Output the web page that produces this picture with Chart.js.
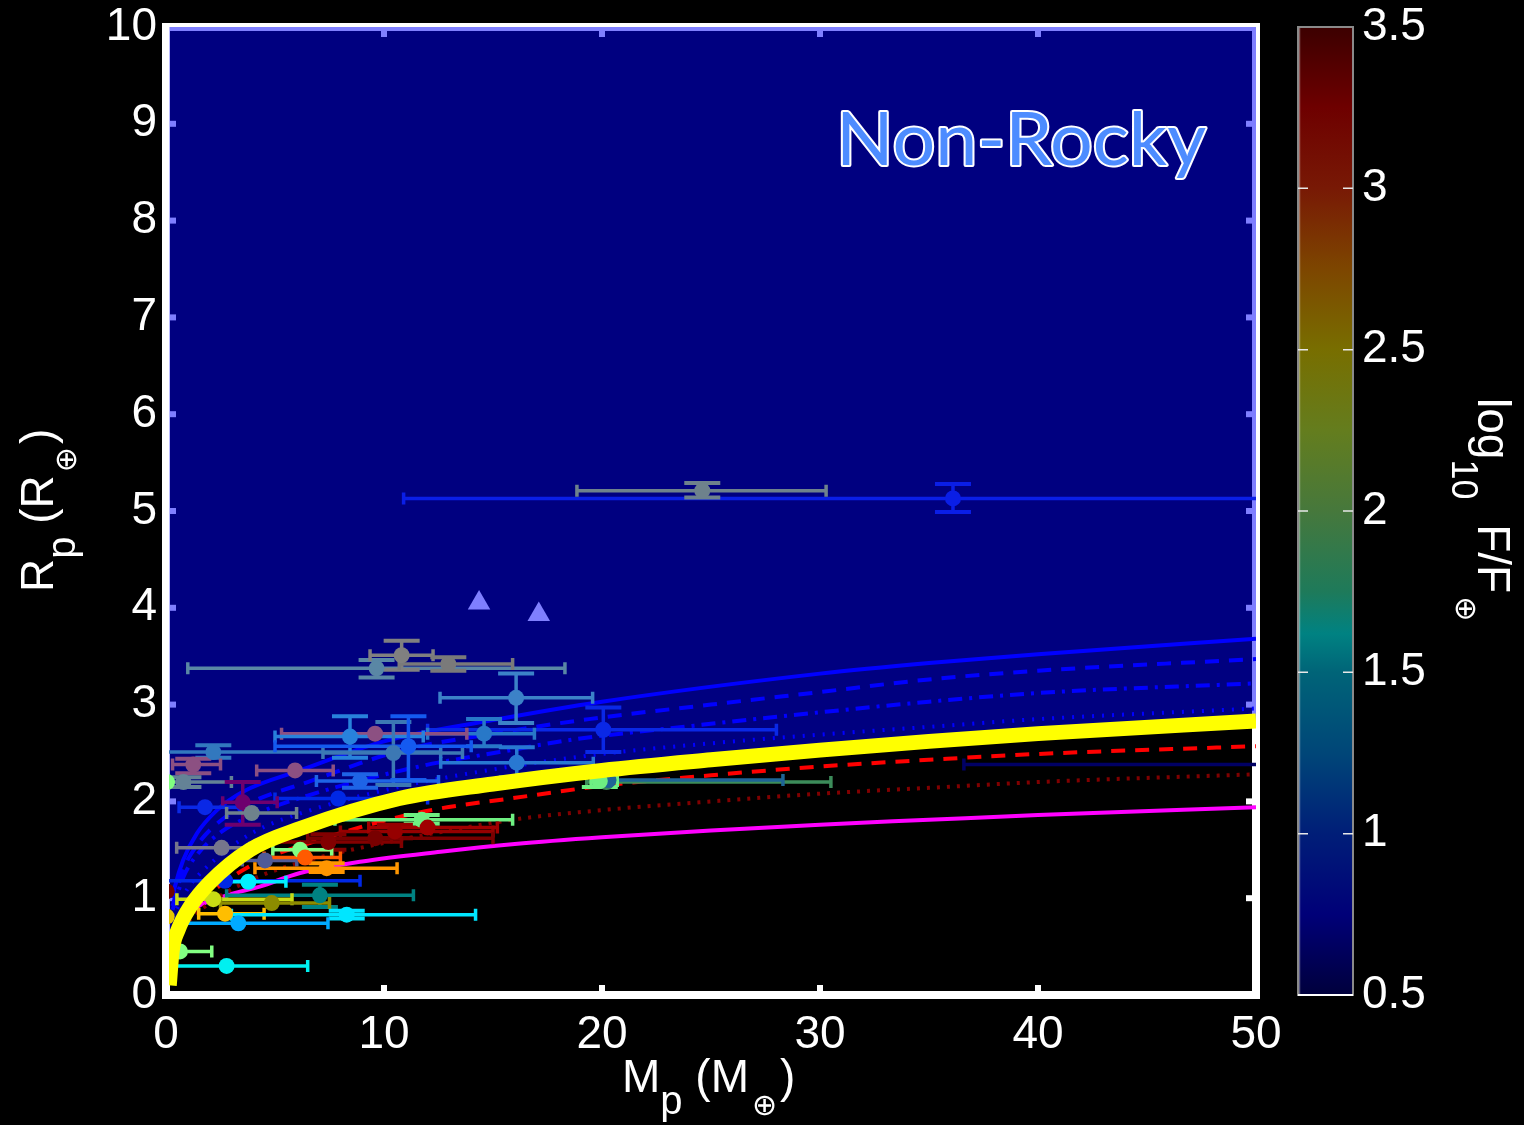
<!DOCTYPE html>
<html>
<head>
<meta charset="utf-8">
<script src="https://cdn.jsdelivr.net/npm/chart.js@4.4.1/dist/chart.umd.min.js"></script>
<style>
  html, body { margin: 0; padding: 0; background: #000; }
  #c { display: block; }
</style>
</head>
<body>
<canvas id="c" width="1524" height="1125"></canvas>
<script>
// ---------- axis ticks ----------
const massTicks   = [0, 10, 20, 30, 40, 50];
const radiusTicks = [0, 1, 2, 3, 4, 5, 6, 7, 8, 9, 10];
const fluxTicks   = [0.5, 1, 1.5, 2, 2.5, 3, 3.5];

// ---------- composition curves (mass in Earth masses, radius in Earth radii) ----------
// rocky / Earth-like threshold (thick yellow)
const rockyMass   = [0.15, 0.28, 0.55, 1.1, 2.0, 3.85, 6.15, 10.7, 15, 20, 25, 30, 35, 40, 50];
const rockyRadius = [0.10, 0.45, 0.67, 0.91, 1.16, 1.50, 1.72, 2.03, 2.18, 2.32, 2.43, 2.53, 2.62, 2.70, 2.83];
// H/He envelope curves (blue)
const envSolidMass   = [0.3, 0.41, 0.78, 1.42, 2.34, 3.53, 6.15, 10, 15, 20, 30, 35, 40, 50];
const envSolidRadius = [1.00, 1.12, 1.39, 1.67, 1.91, 2.10, 2.32, 2.62, 2.84, 3.03, 3.32, 3.43, 3.52, 3.68];
const envDashMass    = [0.3, 0.8, 1.5, 2.5, 4, 6.5, 10.7, 15, 19.4, 25, 30, 35, 40, 50];
const envDashRadius  = [0.92, 1.30, 1.57, 1.80, 2.00, 2.20, 2.52, 2.70, 2.85, 3.00, 3.13, 3.26, 3.35, 3.47];
const envDashDotMass   = [0.3, 0.8, 1.5, 2.5, 4, 6.5, 11.6, 15.3, 19, 21.7, 30, 35, 40, 50];
const envDashDotRadius = [0.88, 1.22, 1.47, 1.68, 1.86, 2.06, 2.36, 2.51, 2.65, 2.72, 2.92, 3.03, 3.12, 3.22];
const envDotMass   = [0.3, 1, 2, 4, 6.5, 10.7, 15, 20, 25, 30, 35, 40, 50];
const envDotRadius = [0.80, 1.10, 1.35, 1.68, 1.90, 2.15, 2.33, 2.49, 2.60, 2.69, 2.77, 2.85, 2.96];
// denser compositions
const ironDashMass   = [0.3, 1, 2, 4, 7, 10, 12.4, 15.8, 20, 25, 30, 35, 40, 50];
const ironDashRadius = [0.55, 0.85, 1.05, 1.35, 1.60, 1.80, 1.92, 2.03, 2.16, 2.27, 2.36, 2.43, 2.49, 2.57];
const ironDotMass   = [0.3, 1, 2, 4, 7, 10, 13, 16.2, 20, 25, 30, 35, 40, 50];
const ironDotRadius = [0.50, 0.75, 0.95, 1.20, 1.42, 1.57, 1.70, 1.82, 1.91, 2.00, 2.08, 2.14, 2.20, 2.28];
const pureIronMass   = [0.3, 0.64, 1.5, 2.8, 4.3, 6.15, 9, 12.6, 16, 20, 25, 30, 35, 40, 50];
const pureIronRadius = [0.62, 0.77, 0.92, 1.03, 1.12, 1.26, 1.38, 1.48, 1.56, 1.63, 1.70, 1.76, 1.81, 1.86, 1.94];

// ---------- planets with mass and radius measurements ----------
const planetMass   = [36.1, 24.6, 9.66, 10.81, 12.95, 16.06, 20.06, 14.59, 2.17, 9.59, 8.44, 10.43, 11.12, 16.09, 1.25, 5.92, 0.8, 0.05, 8.9, 20.2, 20.3, 19.9, 58, 7.9, 3.52, 1.79, 3.93, 2.55, 11.73, 10.5, 12.0, 9.6, 7.45, 6.15, 4.54, 6.38, 7.37, 2.71, 3.78, 0.03, 7.06, 2.17, 4.85, 0.03, 2.71, 8.29, 3.32, 0.64, 2.78];
const planetMassLo = [10.9, 18.85, 1.0, 9.36, 10.7, 12.57, 12.0, 12.0, 0.0, 5.3, 5.0, 7.2, 5.0, 12.6, 0.3, 4.16, 0.0, null, 6.9, 19.3, 19.6, 19.5, 36.6, 5.0, 2.6, 0.6, 2.78, 0.49, 7.75, 8.0, 9.3, 6.5, 4.5, 4.9, 3.5, 4.5, 4.08, 0.0, 2.8, null, 2.78, 0.5, 2.5, null, 1.5, 3.0, 0.64, 0.1, 0.33];
const planetMassHi = [60, 30.28, 18.3, 12.25, 15.9, 19.57, 28.0, 16.9, 12.6, 13.8, 11.8, 13.6, 14.0, 19.6, 2.5, 7.67, 3.0, null, 12.5, 30.5, 28.3, 20.7, 80, 12.0, 5.1, 3.4, 5.99, 3.85, 15.9, 15.0, 15.2, 15.0, 10.8, 7.6, 6.0, 8.0, 10.6, 8.9, 5.5, null, 11.35, 5.78, 7.5, null, 4.5, 14.2, 7.43, 2.1, 6.5];
const planetRadius = [5.13, 5.21, 3.375, 3.51, 3.42, 3.07, 2.74, 2.70, 2.51, 2.70, 2.67, 2.50, 2.57, 2.40, 2.38, 2.32, 2.20, 2.20, 2.21, 2.20, 2.22, 2.21, 2.38, 2.03, 1.99, 1.94, 1.88, 1.52, 1.81, 1.69, 1.73, 1.62, 1.58, 1.50, 1.39, 1.42, 1.31, 1.18, 1.17, 1.07, 1.03, 0.99, 0.95, 0.81, 0.84, 0.83, 0.74, 0.45, 0.30];
const planetRadLo  = [4.99, 5.14, 3.28, 3.36, 3.35, 2.81, 2.51, 2.57, 2.45, null, 2.45, 2.17, 2.22, 2.25, 2.29, null, 2.15, null, 2.14, null, null, 2.15, null, null, 1.76, null, null, null, 1.77, 1.62, null, null, 1.50, null, null, null, 1.27, null, null, null, 0.91, null, null, null, null, 0.79, null, null, null];
const planetRadHi  = [5.28, 5.29, 3.46, 3.66, 3.49, 3.32, 2.97, 2.85, 2.58, null, 2.88, 2.82, 2.88, 2.56, 2.44, null, 2.25, null, 2.28, null, null, 2.27, null, null, 2.20, null, null, null, 1.86, 1.76, null, null, 1.66, null, null, null, 1.36, null, null, null, 1.14, null, null, null, null, 0.87, null, null, null];
const planetColors = ['#0a1ee6', '#6e828c', '#5a87a5', '#808080', '#7a7a7a', '#3c82c8', '#0a28e6', '#2878c8', '#3278be', '#8c5082', '#2882dc', '#3c78b4', '#145af0', '#2878d2', '#8c5082', '#8c5082', '#648296', '#80ff80', '#1e64e6', '#3c8c5a', '#1e6496', '#6ef082', '#000064', '#0028e6', '#6e006e', '#0a28e6', '#6e828c', '#76768c', '#6ef082', '#960000', '#a00000', '#780000', '#820000', '#82ff82', '#505a96', '#ff5a00', '#ff9600', '#0028e6', '#00f0ff', '#6e0000', '#008282', '#c8dc14', '#8c8c00', '#e6c800', '#ffbe00', '#00e6ff', '#00aaff', '#82ff82', '#00f0f0'];

// planets with only a radius limit (triangles)
const limitMass   = [14.36, 17.1];
const limitRadius = [4.05, 3.93];

// ---------- colour bar (log10 incident flux) ----------
const cbStops  = [0.5, 0.75, 1.0, 1.25, 1.5, 1.62, 1.75, 2.0, 2.25, 2.5, 2.75, 3.0, 3.25, 3.5];
const cbColors = ['#00003c', '#000078', '#001e78', '#004678', '#006478', '#008282', '#1e7a5a', '#46783c', '#647d1e', '#786e00', '#7d4600', '#781905', '#6e0000', '#3c0000'];

const TICK_FONT = "'Liberation Sans', Arial, Helvetica, sans-serif";
const toXY = (xs, ys) => xs.map((x, i) => ({ x: x, y: ys[i] }));

function curve(label, xs, ys, color, dash, width, order) {
  return {
    label: label, data: toXY(xs, ys), borderColor: color, borderWidth: width || 4,
    borderDash: dash || [], pointRadius: 0, fill: false, order: order,
    cubicInterpolationMode: 'monotone', clip: 0
  };
}

// frame and inward ticks, drawn beneath the shaded region
const framePlugin = {
  id: 'frameTicks',
  beforeDraw(chart) {
    const ctx = chart.ctx;
    ctx.save();
    ctx.fillStyle = '#000';
    ctx.fillRect(0, 0, chart.width, chart.height);
    ctx.restore();
  },
  beforeDatasetsDraw(chart) {
    const { ctx, chartArea: a, scales } = chart;
    ctx.save();
    ctx.strokeStyle = '#fff';
    ctx.lineWidth = 8;
    ctx.strokeRect(a.left, a.top, a.right - a.left, a.bottom - a.top);
    ctx.fillStyle = '#fff';
    massTicks.slice(1, -1).forEach(v => {
      const px = scales.x.getPixelForValue(v);
      ctx.fillRect(px - 3, a.top, 6, 10);
      ctx.fillRect(px - 3, a.bottom - 10, 6, 10);
    });
    radiusTicks.slice(1, -1).forEach(v => {
      const py = scales.y.getPixelForValue(v);
      ctx.fillRect(a.left, py - 3, 10, 6);
      ctx.fillRect(a.right - 10, py - 3, 10, 6);
    });
    ctx.restore();
  },
  afterDatasetsDraw(chart) {
    const { ctx, chartArea: a } = chart;
    ctx.save();
    ctx.strokeStyle = '#fff';
    ctx.lineWidth = 6;
    ctx.beginPath();
    ctx.moveTo(a.left, a.top - 4);
    ctx.lineTo(a.left, a.bottom + 1);
    ctx.lineTo(a.right + 4, a.bottom + 1);
    ctx.stroke();
    ctx.restore();
  }
};

// error bars for the planet dataset
const errorBarPlugin = {
  id: 'errorBars',
  beforeDatasetDraw(chart, args) {
    if (chart.data.datasets[args.index].label !== 'planets') return;
    const { ctx, chartArea: a, scales: { x, y } } = chart;
    ctx.save();
    ctx.beginPath();
    ctx.rect(a.left, a.top, a.right - a.left, a.bottom - a.top);
    ctx.clip();
    ctx.lineCap = 'butt';
    planetMass.forEach((m, i) => {
      ctx.strokeStyle = planetColors[i];
      const px = x.getPixelForValue(m);
      const py = y.getPixelForValue(planetRadius[i]);
      if (planetMassLo[i] !== null) {
        const x0 = x.getPixelForValue(planetMassLo[i]);
        const x1 = x.getPixelForValue(planetMassHi[i]);
        ctx.lineWidth = 3.5;
        ctx.beginPath();
        ctx.moveTo(x0, py); ctx.lineTo(x1, py);
        ctx.moveTo(x0, py - 6); ctx.lineTo(x0, py + 6);
        ctx.moveTo(x1, py - 6); ctx.lineTo(x1, py + 6);
        ctx.stroke();
      }
      if (planetRadLo[i] !== null) {
        const y0 = y.getPixelForValue(planetRadLo[i]);
        const y1 = y.getPixelForValue(planetRadHi[i]);
        ctx.lineWidth = 3.5;
        ctx.beginPath();
        ctx.moveTo(px, y0); ctx.lineTo(px, y1);
        ctx.stroke();
        ctx.lineWidth = 4;
        ctx.beginPath();
        ctx.moveTo(px - 18, y0); ctx.lineTo(px + 18, y0);
        ctx.moveTo(px - 18, y1); ctx.lineTo(px + 18, y1);
        ctx.stroke();
      }
    });
    ctx.restore();
  }
};

// draws a run of text pieces (with sub-scripts) along the baseline
function drawPieces(ctx, pieces) {
  let cx = 0;
  pieces.forEach(p => {
    ctx.font = p.font;
    cx += p.pre || 0;
    ctx.fillText(p.t, cx, p.dy || 0);
    cx += ctx.measureText(p.t).width + (p.post || 0);
  });
}

// colour bar, axis titles and region label
const decorPlugin = {
  id: 'decor',
  afterDraw(chart) {
    const ctx = chart.ctx;
    const cb = chart.scales.cb;
    const yBot = cb.getPixelForValue(0.5), yTop = cb.getPixelForValue(3.5);
    const x0 = cb.left + 42, w = 55;
    ctx.save();
    const g = ctx.createLinearGradient(0, yBot, 0, yTop);
    cbStops.forEach((v, i) => g.addColorStop((v - 0.5) / 3, cbColors[i]));
    ctx.fillStyle = g;
    ctx.fillRect(x0, yTop, w, yBot - yTop);
    ctx.strokeStyle = 'rgba(255,255,255,0.35)';
    ctx.lineWidth = 1.5;
    ctx.beginPath(); ctx.moveTo(x0 + 1.5, yTop); ctx.lineTo(x0 + 1.5, yBot); ctx.stroke();
    ctx.strokeStyle = '#8a8a8a';
    ctx.lineWidth = 2;
    ctx.strokeRect(x0, yTop, w, yBot - yTop);
    ctx.strokeStyle = '#fff';
    ctx.beginPath(); ctx.moveTo(x0, yBot); ctx.lineTo(x0 + w, yBot); ctx.stroke();
    ctx.strokeStyle = '#e8e8e8';
    ctx.lineWidth = 1.5;
    fluxTicks.slice(1, -1).forEach(v => {
      const py = cb.getPixelForValue(v);
      ctx.beginPath();
      ctx.moveTo(x0, py); ctx.lineTo(x0 + 10, py);
      ctx.moveTo(x0 + w - 10, py); ctx.lineTo(x0 + w, py);
      ctx.stroke();
    });

    const big = "46px " + TICK_FONT;
    const sub = "40px " + TICK_FONT;
    const earth = "30px 'DejaVu Sans', sans-serif";
    ctx.fillStyle = '#fff';
    ctx.textBaseline = 'alphabetic';
    ctx.textAlign = 'left';

    // x title
    ctx.save();
    ctx.translate(622, 1092);
    drawPieces(ctx, [
      { t: 'M', font: big },
      { t: 'p', font: sub, dy: 22 },
      { t: ' (', font: big },
      { t: 'M', font: big },
      { t: '\u2295', font: earth, dy: 23, pre: 3, post: 3 },
      { t: ')', font: big }
    ]);
    ctx.restore();

    // y title
    ctx.save();
    ctx.translate(53, 592);
    ctx.rotate(-Math.PI / 2);
    drawPieces(ctx, [
      { t: 'R', font: big },
      { t: 'p', font: sub, dy: 22 },
      { t: ' (', font: big },
      { t: 'R', font: big },
      { t: '\u2295', font: earth, dy: 23, pre: 3, post: 3 },
      { t: ')', font: big }
    ]);
    ctx.restore();

    // colour bar title
    ctx.save();
    ctx.translate(1478, 398);
    ctx.rotate(Math.PI / 2);
    drawPieces(ctx, [
      { t: 'log', font: big },
      { t: '10', font: "36px " + TICK_FONT, dy: 26, post: 12 },
      { t: ' F/F', font: big },
      { t: '\u2295', font: earth, dy: 22, pre: 3 }
    ]);
    ctx.restore();

    // region label
    ctx.save();
    ctx.font = "74px Lato, 'Open Sans', sans-serif";
    const label = 'Non-Rocky';
    const tw = ctx.measureText(label).width;
    ctx.translate(836, 165);
    ctx.scale(370 / tw, 1);
    ctx.lineJoin = 'round';
    ctx.lineWidth = 4;
    ctx.strokeStyle = '#ffffff';
    ctx.strokeText(label, 0, 0);
    ctx.fillStyle = '#4d8cff';
    ctx.fillText(label, 0, 0);
    ctx.restore();

    ctx.restore();
  }
};

const tickFont = { family: TICK_FONT, size: 46, lineHeight: 1 };

new Chart(document.getElementById('c'), {
  type: 'line',
  data: {
    datasets: [
      {
        label: 'planets', data: toXY(planetMass, planetRadius), showLine: false,
        pointRadius: 8, pointBorderWidth: 0, pointBackgroundColor: planetColors,
        pointStyle: 'circle', order: 1
      },
      curve('rocky', rockyMass, rockyRadius, '#ffff00', [], 15, 0),
      curve('envelope 1', envSolidMass, envSolidRadius, '#0000ff', [], 4, 2),
      curve('envelope 2', envDashMass, envDashRadius, '#0000ff', [14, 10], 4, 2),
      curve('envelope 3', envDashDotMass, envDashDotRadius, '#0000ff', [14, 7, 3, 7], 4, 2),
      curve('envelope 4', envDotMass, envDotRadius, '#0000ff', [2, 8], 4, 2),
      curve('iron 1', ironDashMass, ironDashRadius, '#ff0000', [14, 10], 4, 2),
      curve('iron 2', ironDotMass, ironDotRadius, '#800000', [3, 7], 4, 2),
      curve('iron 3', pureIronMass, pureIronRadius, '#ff00ff', [], 4, 2),
      {
        label: 'non-rocky region', data: toXY(rockyMass, rockyRadius), borderWidth: 0,
        pointRadius: 0, fill: 'end', backgroundColor: 'rgba(0,0,255,0.5)',
        cubicInterpolationMode: 'monotone', order: 9, clip: 0
      },
      {
        label: 'radius limits', data: toXY(limitMass, limitRadius), showLine: false,
        pointStyle: 'triangle', pointRadius: 13, pointBorderWidth: 0,
        pointBackgroundColor: '#ffffff', order: 10
      }
    ]
  },
  options: {
    responsive: false,
    animation: false,
    events: [],
    layout: { padding: { top: 27, left: 0, right: 0, bottom: 0 } },
    plugins: { legend: { display: false }, tooltip: { enabled: false } },
    scales: {
      x: {
        type: 'linear', min: 0, max: 50,
        grid: { display: false, drawTicks: false }, border: { display: false },
        afterBuildTicks: s => { s.ticks = massTicks.map(v => ({ value: v })); },
        afterFit: s => { s.height = 130; s.paddingLeft = 0; s.paddingRight = 0; },
        ticks: { color: '#fff', font: tickFont, padding: 17, maxRotation: 0, autoSkip: false, callback: v => String(v) }
      },
      y: {
        type: 'linear', min: 0, max: 10, position: 'left',
        grid: { display: false, drawTicks: false }, border: { display: false },
        afterBuildTicks: s => { s.ticks = radiusTicks.map(v => ({ value: v })); },
        afterFit: s => { s.width = 166; s.paddingTop = 0; s.paddingBottom = 0; },
        ticks: { color: '#fff', font: tickFont, padding: 9, autoSkip: false, callback: v => String(v) }
      },
      cb: {
        type: 'linear', axis: 'y', position: 'right', min: 0.5, max: 3.5,
        grid: { display: false, drawTicks: false }, border: { display: false },
        afterBuildTicks: s => { s.ticks = fluxTicks.map(v => ({ value: v })); },
        afterFit: s => { s.width = 268; s.paddingTop = 0; s.paddingBottom = 0; },
        ticks: { color: '#fff', font: tickFont, padding: 106, autoSkip: false, callback: v => String(v) }
      }
    }
  },
  plugins: [framePlugin, errorBarPlugin, decorPlugin]
});
</script>
</body>
</html>
